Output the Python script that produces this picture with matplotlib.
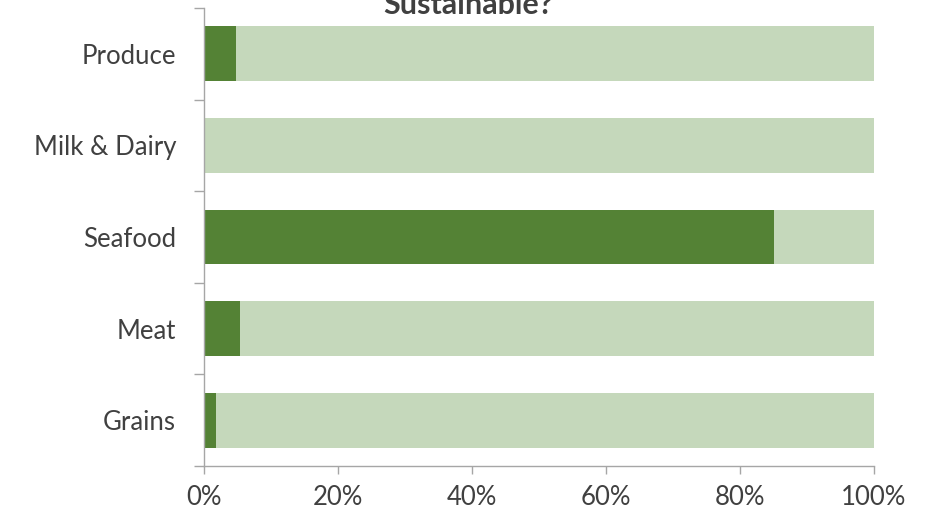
import matplotlib
matplotlib.use("Agg")
import matplotlib.pyplot as plt
from matplotlib.ticker import FixedLocator, PercentFormatter

categories = ["Grains", "Meat", "Seafood", "Milk & Dairy", "Produce"]
sustainable = [1.8, 5.4, 85.1, 0.0, 4.8]
not_sustainable = [98.2, 94.6, 14.9, 100.0, 95.2]
x_ticks = [0, 20, 40, 60, 80, 100]
title = "Sustainable?"

plt.rcParams['font.family'] = ['Lato', 'DejaVu Sans']
text_color = "#404040"
axis_color = "#A6A6A6"

fig = plt.figure(figsize=(9.36, 5.15), dpi=100)
ax = fig.add_axes([204/936, 1 - 466/515, 670/936, 458/515])

y = list(range(len(categories)))
ax.barh(y, sustainable, height=0.6, color="#548235", edgecolor="none")
ax.barh(y, not_sustainable, left=sustainable, height=0.6, color="#C5D8BB", edgecolor="none")

ax.set_xlim(0, 100)
ax.set_ylim(-0.5, len(categories) - 0.5)
ax.set_xticks(x_ticks)
ax.xaxis.set_major_formatter(PercentFormatter(decimals=0))
ax.set_yticks(y)
ax.set_yticklabels(categories)
ax.yaxis.set_minor_locator(FixedLocator([i - 0.5 for i in range(len(categories) + 1)]))

for s in ["top", "right"]:
    ax.spines[s].set_visible(False)
for s in ["left", "bottom"]:
    ax.spines[s].set_color(axis_color)
    ax.spines[s].set_linewidth(1.0)

ax.tick_params(axis="y", which="major", length=0, pad=20, labelsize=18.5, labelcolor=text_color)
ax.tick_params(axis="y", which="minor", length=7, color=axis_color, width=1)
ax.tick_params(axis="x", which="major", length=6, color=axis_color, width=1, pad=8,
               labelsize=18.5, labelcolor=text_color)

fig.text(0.5, 1 - 14/515, title, ha="center", va="baseline", fontsize=22,
         fontweight="bold", color=text_color)

fig.savefig("out.png", dpi=100)
